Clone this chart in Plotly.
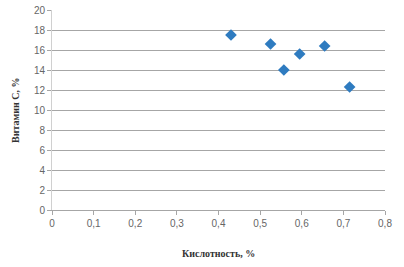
import plotly.graph_objects as go

acidity = [0.43, 0.525, 0.557, 0.595, 0.655, 0.715]
vitamin_c = [17.5, 16.6, 14.0, 15.6, 16.4, 12.3]
x_ticks = [0, 0.1, 0.2, 0.3, 0.4, 0.5, 0.6, 0.7, 0.8]
y_ticks = [0, 2, 4, 6, 8, 10, 12, 14, 16, 18, 20]

title_font = dict(family="Liberation Serif, DejaVu Serif", size=10, color="#333333", weight="bold")

fig = go.Figure(go.Scatter(
    x=acidity, y=vitamin_c, mode="markers",
    marker=dict(symbol="diamond", size=9, color="#2E7BC0"),
))

fig.update_layout(
    width=404, height=267,
    margin=dict(l=52, r=19, t=10, b=57),
    paper_bgcolor="white", plot_bgcolor="white",
    showlegend=False,
    font=dict(family="Liberation Sans, Arial", size=10, color="#666666"),
    annotations=[
        dict(text="Кислотность, %", xref="paper", yref="paper", x=0.5, y=0,
             yshift=-43, showarrow=False, font=title_font, xanchor="center", yanchor="middle"),
        dict(text="Витамин С, %", xref="paper", yref="paper", x=0, y=0.5,
             xshift=-37, showarrow=False, font=title_font, textangle=-90,
             xanchor="center", yanchor="middle"),
    ],
)
fig.update_xaxes(
    range=[0, 0.8], tickvals=x_ticks, ticktext=[str(v).replace(".", ",") for v in x_ticks],
    automargin=False,
    showgrid=False, zeroline=False, showline=True, linecolor="#A6A6A6", linewidth=1,
    ticks="outside", ticklen=4, tickcolor="#A6A6A6",
)
fig.update_yaxes(
    range=[0, 20], tickvals=y_ticks, automargin=False,
    showgrid=True, gridcolor="#A6A6A6", gridwidth=1,
    zeroline=False, showline=True, linecolor="#D0D0D0", linewidth=1,
    ticks="outside", ticklen=4, tickcolor="#A6A6A6",
)

fig.write_html("out.html", config={"displayModeBar": False},
               post_script="document.body.style.margin='0';")
